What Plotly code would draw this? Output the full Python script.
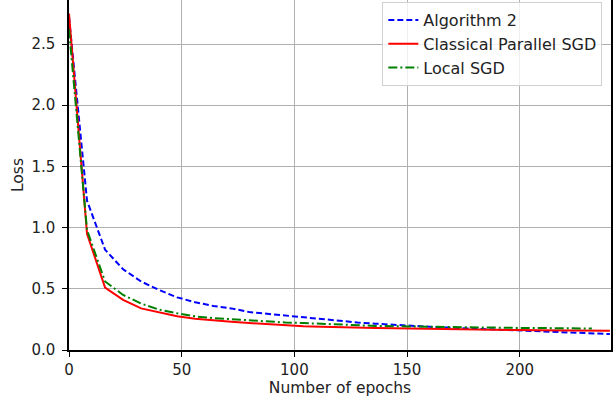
import plotly.graph_objects as go

epochs = [0, 8, 16, 24, 32, 40, 48, 56, 64, 72, 80, 88, 96, 104, 112, 120,
          128, 136, 144, 152, 160, 168, 176, 184, 192, 200, 208, 216, 224, 232, 240]

alg2 = [2.72, 1.22, 0.82, 0.66, 0.56, 0.49, 0.43, 0.39, 0.36, 0.34, 0.31, 0.295,
        0.28, 0.265, 0.25, 0.235, 0.225, 0.215, 0.205, 0.195, 0.19, 0.183, 0.177,
        0.17, 0.163, 0.158, 0.152, 0.145, 0.14, 0.135, 0.13]

classical = [2.75, 0.95, 0.51, 0.41, 0.34, 0.31, 0.275, 0.255, 0.24, 0.23, 0.22,
             0.21, 0.2, 0.195, 0.19, 0.185, 0.18, 0.18, 0.178, 0.175, 0.172, 0.17,
             0.17, 0.168, 0.165, 0.163, 0.162, 0.16, 0.16, 0.158, 0.157]

local_epochs = epochs[:-1]
local = [2.62, 0.98, 0.56, 0.45, 0.38, 0.33, 0.30, 0.275, 0.26, 0.25, 0.24, 0.23,
         0.225, 0.22, 0.213, 0.207, 0.2, 0.197, 0.195, 0.192, 0.19, 0.188, 0.185,
         0.183, 0.182, 0.18, 0.18, 0.178, 0.177, 0.175]

xticks = [0, 50, 100, 150, 200]
yticks = [0.0, 0.5, 1.0, 1.5, 2.0, 2.5]

fig = go.Figure()
fig.add_trace(go.Scatter(x=epochs, y=alg2, mode="lines", name="Algorithm 2",
                         line=dict(color="#0000ff", width=2, dash="6px,3px")))
fig.add_trace(go.Scatter(x=epochs, y=classical, mode="lines", name="Classical Parallel SGD",
                         line=dict(color="#ff0000", width=2)))
fig.add_trace(go.Scatter(x=local_epochs, y=local, mode="lines", name="Local SGD",
                         line=dict(color="#008000", width=2, dash="9px,3px,2px,3px")))

tickfont = dict(family="DejaVu Sans", size=15, color="#222222")
titlefont = dict(family="DejaVu Sans", size=15.5, color="#222222")

fig.update_layout(
    width=616, height=406,
    margin=dict(l=69, r=5, t=0, b=56),
    paper_bgcolor="white", plot_bgcolor="white",
    font=dict(family="DejaVu Sans", size=15, color="#222222"),
    showlegend=True,
    legend=dict(x=0.984, y=0.994, xanchor="right", yanchor="top",
                bgcolor="rgba(255,255,255,0.8)", bordercolor="#d0d0d0", borderwidth=1,
                font=dict(family="DejaVu Sans", size=16, color="#222222"),
                tracegroupgap=0, itemwidth=30),
    xaxis=dict(range=[0, 240.5], tickvals=xticks, ticktext=[str(v) for v in xticks],
               showgrid=True, gridcolor="#b0b0b0", gridwidth=1,
               showline=True, linecolor="#000000", linewidth=1.5, mirror=False,
               ticks="outside", ticklen=5, tickcolor="#000000", zeroline=False,
               tickfont=tickfont, automargin=False,
               title=dict(text="Number of epochs", font=titlefont, standoff=4)),
    yaxis=dict(range=[0, 2.86], tickvals=yticks, ticktext=[f"{v:.1f}" for v in yticks],
               showgrid=True, gridcolor="#b0b0b0", gridwidth=1,
               showline=True, linecolor="#000000", linewidth=1.5, mirror=True,
               ticks="outside", ticklen=5, tickcolor="#000000", zeroline=False,
               tickfont=tickfont, automargin=False, ticklabelstandoff=4,
               title=dict(text="Loss", font=titlefont, standoff=4)),
)

fig.write_html("out.html", config={"displayModeBar": False},
               post_script="document.body.style.margin='0';document.body.style.overflow='hidden';")
